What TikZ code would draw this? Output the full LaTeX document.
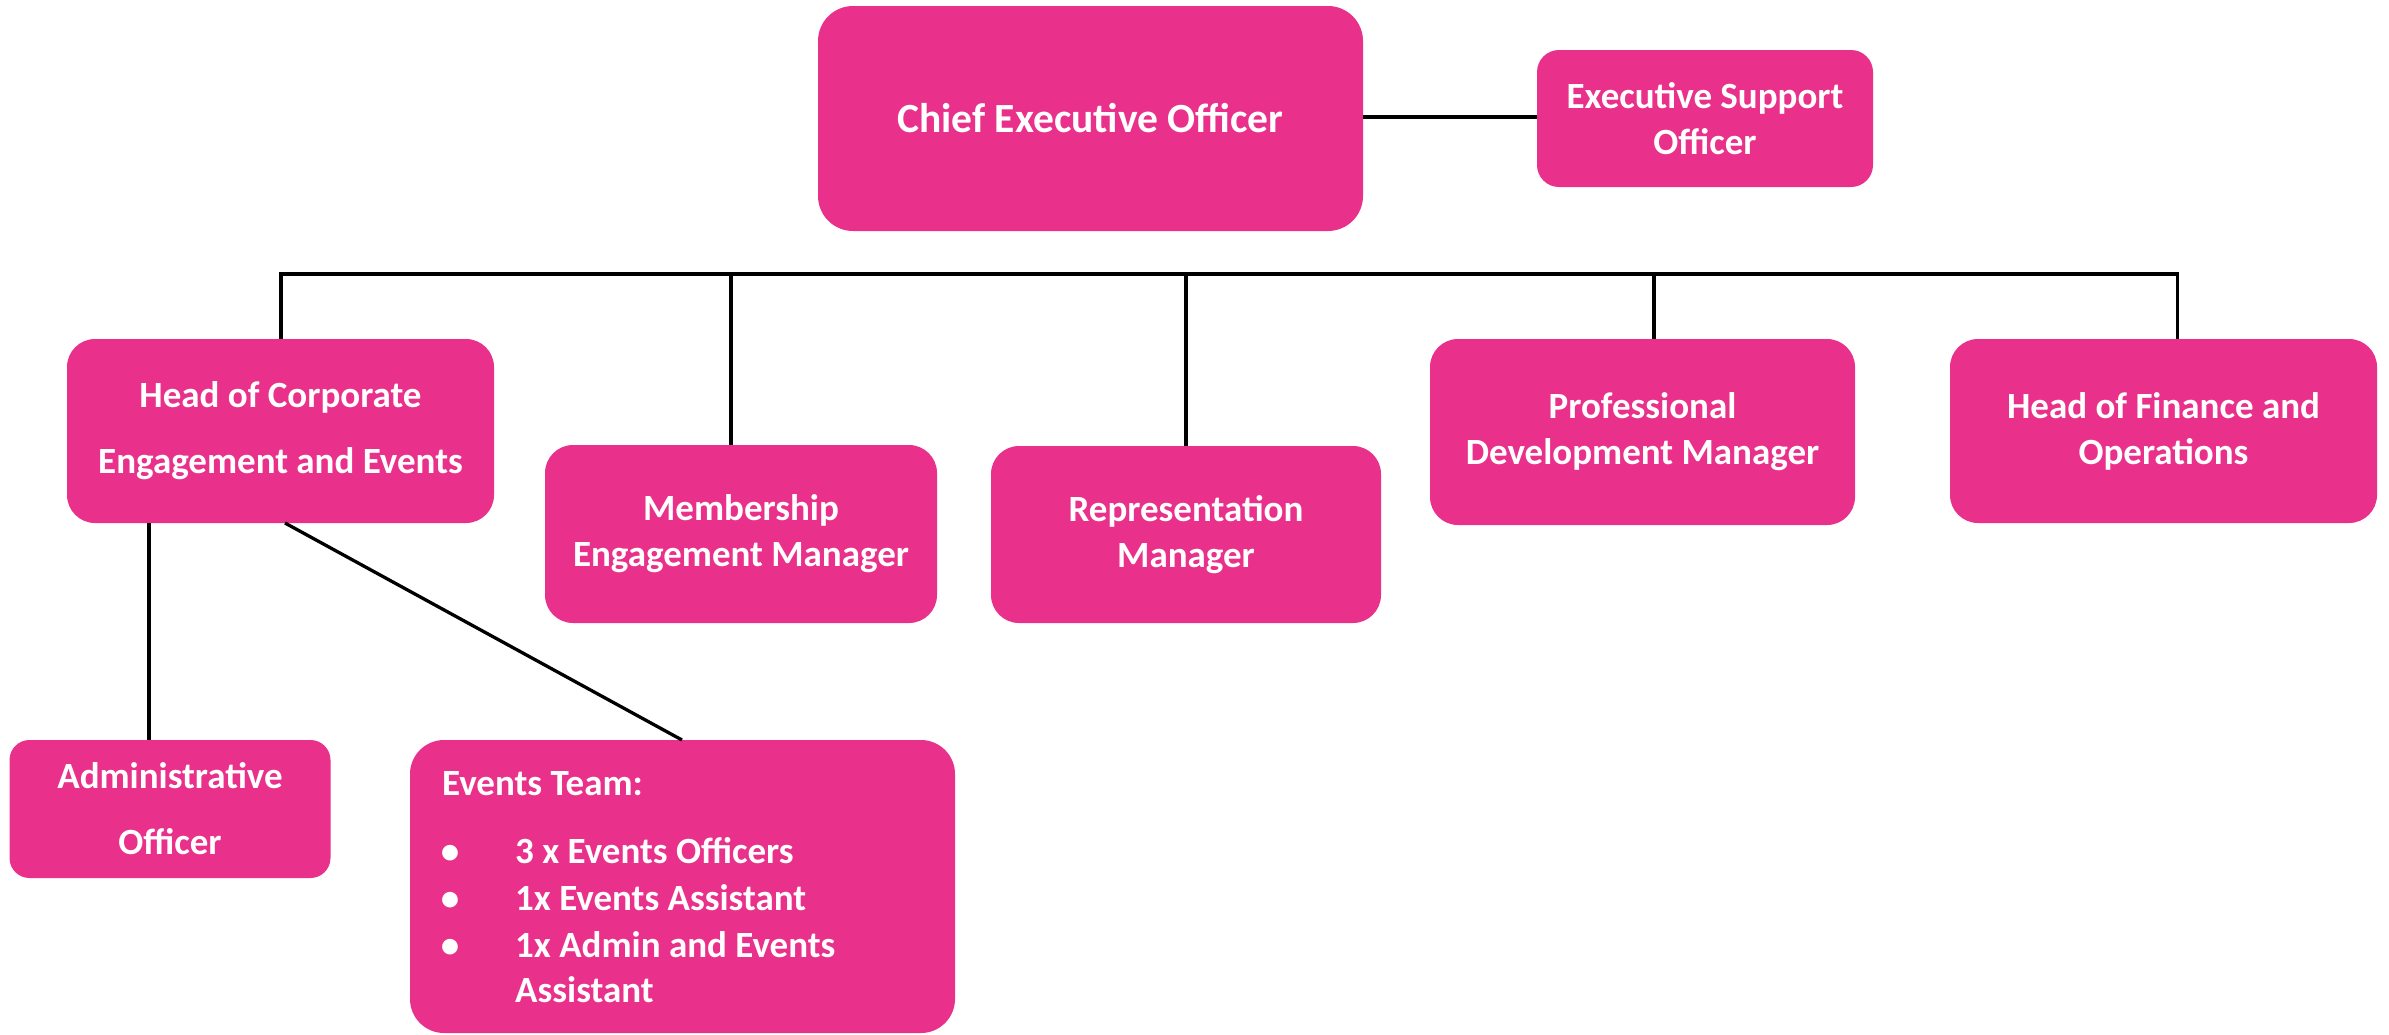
\documentclass[tikz,border=0pt]{standalone}
\usepackage{fontspec}
\setmainfont{Carlito}
\definecolor{pinkbox}{HTML}{E9308A}
\tikzset{
  box/.style={fill=pinkbox, draw=none, rounded corners=28pt, inner sep=0pt,
    text=white, align=center, font=\bfseries\fontsize{37}{46}\selectfont},
  widebox/.style={box, font=\bfseries\fontsize{37}{66}\selectfont},
  etext/.style={inner sep=0pt, text=white, font=\bfseries\fontsize{37}{46}\selectfont},
  link/.style={line width=3.3pt, black},
  buslink/.style={line width=3.6pt, black}
}
\begin{document}
\begin{tikzpicture}[x=1pt,y=-1pt]
\useasboundingbox (0,0) rectangle (2389,1034);

% boxes
\node[box, minimum width=545pt, minimum height=225pt, rounded corners=35pt,
      font=\bfseries\fontsize{41.5}{48}\selectfont] (ceo) at (1090.5,118.5) {Chief Executive Officer};
\node[box, minimum width=336pt, minimum height=137pt, rounded corners=22pt] (eso) at (1705,118.5) {Executive Support\\Officer};
\node[widebox, minimum width=427pt, minimum height=184pt] (hcee) at (280.5,431) {Head of Corporate\\Engagement and Events};
\node[box, minimum width=392pt, minimum height=178pt] (mem) at (741,534) {Membership\\Engagement Manager};
\node[box, minimum width=390pt, minimum height=177pt] (rep) at (1186,534.5) {Representation\\Manager};
\node[box, minimum width=425pt, minimum height=186pt] (pdm) at (1642.5,432) {Professional\\Development Manager};
\node[box, minimum width=427pt, minimum height=184pt] (hfo) at (2163.5,431) {Head of Finance and\\Operations};
\node[widebox, minimum width=321pt, minimum height=138pt, rounded corners=20pt] (adm) at (170,809) {Administrative\\Officer};
\node[box, minimum width=545pt, minimum height=293pt, rounded corners=34pt] (evt) at (682.5,886.5) {};

% events team text
\node[etext, anchor=base west] (ethead) at (442,795) {Events Team:};
\node[etext, anchor=base] (eb1) at (450,863) {•};
\node[etext, anchor=base] (eb2) at (450,910) {•};
\node[etext, anchor=base] (eb3) at (450,957) {•};
\node[etext, anchor=base west] (et1) at (515,863) {3 x Events Officers};
\node[etext, anchor=base west] (et2) at (515,910) {1x Events Assistant};
\node[etext, anchor=base west] (et3) at (515,957) {1x Admin and Events};
\node[etext, anchor=base west] (et4) at (515,1002) {Assistant};

% connectors
\draw[buslink] (ceo.east |- 0,117) -- (eso.west |- 0,117);
\coordinate (bL) at (279.2,274);
\coordinate (bR) at (2179.3,274);
\draw[buslink] (bL) -- (bR);
\coordinate (b1) at (281,274);
\coordinate (b2) at (731,274);
\coordinate (b3) at (1186,274);
\coordinate (b4) at (1654,274);
\coordinate (b5) at (2177.5,274);
\draw[link] (b1) -- (b1 |- hcee.north);
\draw[link] (b2) -- (b2 |- mem.north);
\draw[link] (b3) -- (b3 |- rep.north);
\draw[link] (b4) -- (b4 |- pdm.north);
\draw[link] (b5) -- (b5 |- hfo.north);
\coordinate (h1) at (149,523);
\draw[link] (h1) -- (h1 |- adm.north);
\coordinate (h2) at (285,523);
\coordinate (e2) at (682,740);
\draw[link] (h2) -- (e2);
\end{tikzpicture}
\end{document}
